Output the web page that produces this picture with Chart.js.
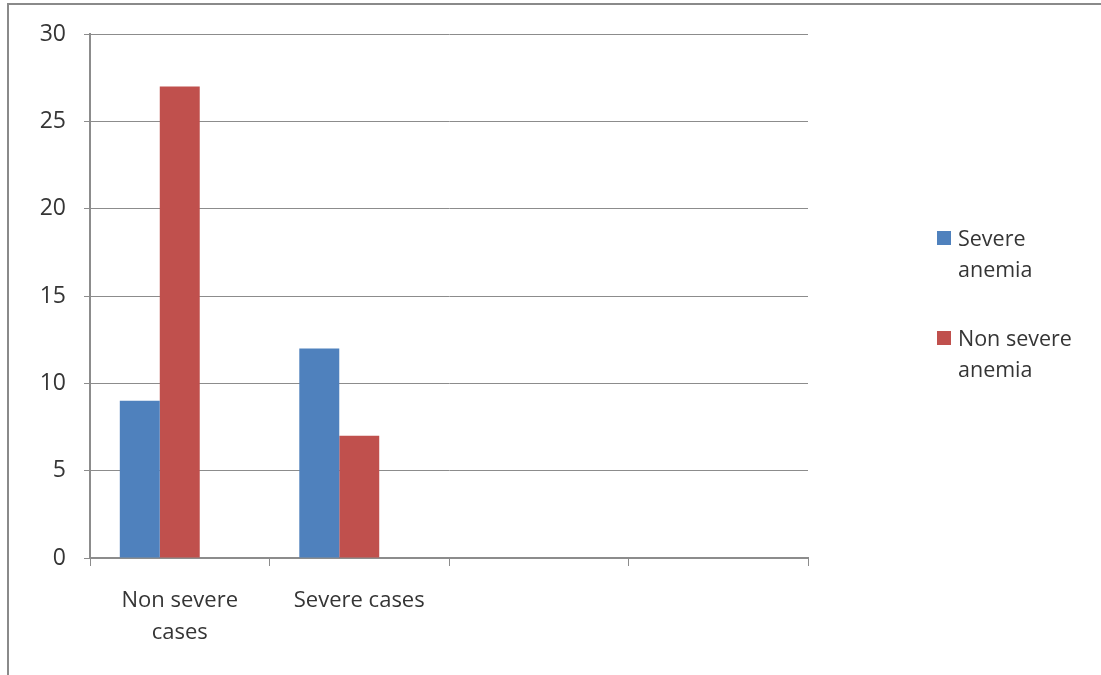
<!DOCTYPE html>
<html>
<head>
<meta charset="utf-8">
<script src="https://cdn.jsdelivr.net/npm/chart.js@4/dist/chart.umd.min.js"></script>
<style>
  html, body { margin: 0; padding: 0; background: #fff; }
  #wrap { position: relative; width: 1101px; height: 675px; overflow: hidden; }
  #frame {
    position: absolute; left: 7px; top: 3px; right: -4px; bottom: -4px;
    border-top: 2px solid #8a8a8a; border-left: 2px solid #8a8a8a;
    pointer-events: none;
  }
  #legend {
    position: absolute; left: 937px; top: 222px;
    font-family: "Open Sans", sans-serif; font-size: 21.5px; line-height: 31px; color: #353535;
  }
  .item { position: relative; padding-left: 21px; margin-bottom: 38px; }
  .swatch { position: absolute; left: 0; top: 9px; width: 14px; height: 14px; }
</style>
</head>
<body>
<div id="wrap">
  <canvas id="chart" width="1101" height="675"></canvas>
  <div id="frame"></div>
  <div id="legend"></div>
</div>
<script>
// Categories along the x axis (last two slots are empty)
const categories = [["Non severe", "cases"], "Severe cases", "", ""];
// Series values
const severeAnemia = [9, 12, null, null];
const nonSevereAnemia = [27, 7, null, null];
// Empty third series that reserves a bar slot in each group
const emptySeries = [null, null, null, null];
// Y axis ticks
const yTicks = [0, 5, 10, 15, 20, 25, 30];

const seriesNames = ["Severe\nanemia", "Non severe\nanemia"];
const seriesColors = ["#4F81BD", "#C0504D"];

const textColor = "#353535";
const lineColor = "#8c8c8c";
const yFont = { family: "'Open Sans', sans-serif", size: 23 };
const xFont = { family: "'Open Sans', sans-serif", size: 22, lineHeight: 1.45 };

const chart = new Chart(document.getElementById("chart"), {
  type: "bar",
  data: {
    labels: categories,
    datasets: [
      { label: seriesNames[0], data: severeAnemia, backgroundColor: seriesColors[0] },
      { label: seriesNames[1], data: nonSevereAnemia, backgroundColor: seriesColors[1] },
      { label: "", data: emptySeries, backgroundColor: "transparent" }
    ]
  },
  options: {
    responsive: false,
    animation: false,
    events: [],
    layout: { padding: { top: 34, right: 293, left: 0, bottom: 0 } },
    datasets: { bar: { categoryPercentage: 0.668, barPercentage: 1.0 } },
    plugins: { legend: { display: false }, tooltip: { enabled: false } },
    scales: {
      x: {
        offset: true,
        grid: { offset: true, drawOnChartArea: false, drawTicks: true, tickLength: 8, color: lineColor, lineWidth: 1 },
        border: { color: lineColor, width: 2 },
        ticks: { color: textColor, font: xFont, padding: 19, maxRotation: 0, autoSkip: false },
        afterFit: (s) => { s.height = 117; }
      },
      y: {
        min: 0, max: 30,
        afterBuildTicks: (s) => { s.ticks = yTicks.map(v => ({ value: v })); },
        grid: { color: lineColor, lineWidth: 1, drawTicks: true, tickLength: 6 },
        border: { color: lineColor, width: 2 },
        ticks: { color: textColor, font: yFont, padding: 18 },
        afterFit: (s) => { s.width = 90; }
      }
    }
  }
});

// Legend built from the series names and colours
const legend = document.getElementById("legend");
seriesNames.forEach((name, i) => {
  const item = document.createElement("div");
  item.className = "item";
  const sw = document.createElement("span");
  sw.className = "swatch";
  sw.style.background = seriesColors[i];
  item.appendChild(sw);
  name.split("\n").forEach(line => {
    const d = document.createElement("div");
    d.textContent = line;
    item.appendChild(d);
  });
  legend.appendChild(item);
});
</script>
</body>
</html>
